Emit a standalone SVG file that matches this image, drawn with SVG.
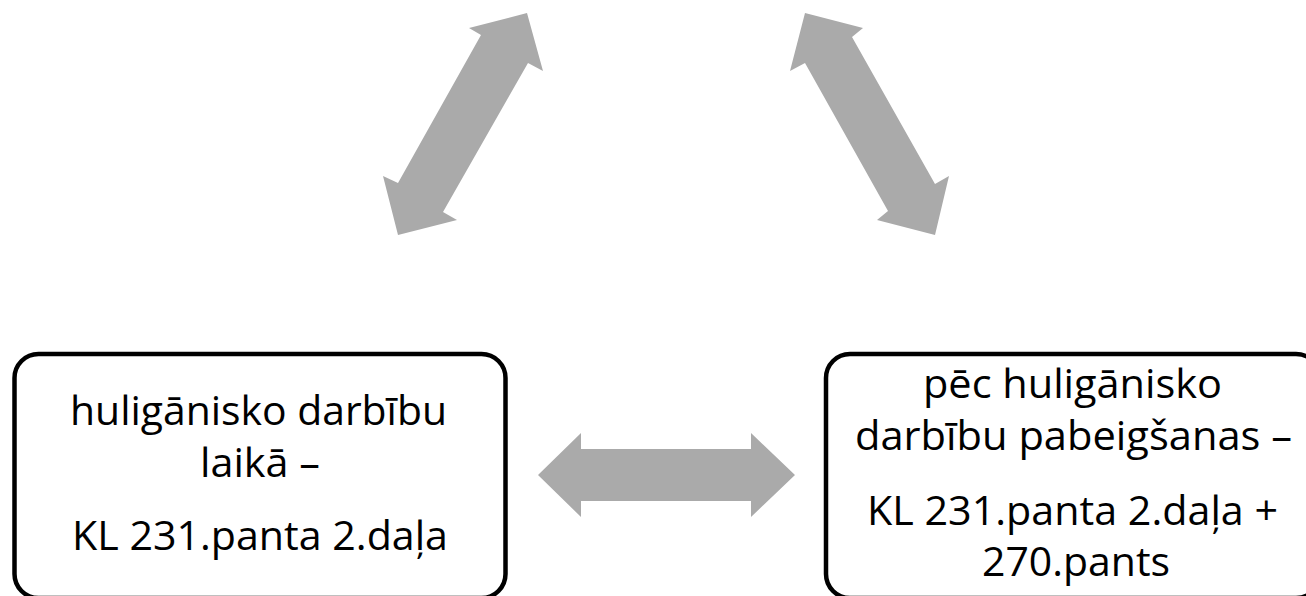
<svg xmlns="http://www.w3.org/2000/svg" width="1306" height="596" viewBox="0 0 1306 596">
<style>
.box{fill:#fff;stroke:#000;stroke-width:4.5}
.arr{fill:#aaaaaa}
.t{font-family:"Open Sans","Noto Sans","Liberation Sans",sans-serif;font-size:41px;fill:#000;text-anchor:middle}
</style>
<rect width="1306" height="596" fill="#fff"/>
<g id="connectors">
<polygon class="arr" points="527,13 543,71 528,63 443,212 457,220 398,235 383,176 398,183 481,35 469,28"/>
<polygon class="arr" points="805,13 863,28 852,37 935,184 949,176 935,235 877,220 888,211 805,63 790,71"/>
<polygon class="arr" points="538,475 581,433 581,449 751,449 751,433 795,475 751,517 751,501 581,501 581,517"/>
</g>
<g id="node-left">
<rect class="box" x="14.5" y="354" width="491" height="244" rx="24" ry="24"/>
<text class="t" x="258.5" y="425" textLength="377" lengthAdjust="spacingAndGlyphs">huligānisko darbību</text>
<text class="t" x="260" y="477" textLength="120" lengthAdjust="spacingAndGlyphs">laikā –</text>
<text class="t" x="260" y="550" textLength="376" lengthAdjust="spacingAndGlyphs">KL 231.panta 2.daļa</text>
</g>
<g id="node-right">
<rect class="box" x="826" y="354" width="494" height="244" rx="24" ry="24"/>
<text class="t" x="1072.5" y="398" textLength="299" lengthAdjust="spacingAndGlyphs">pēc huligānisko</text>
<text class="t" x="1073.5" y="450" textLength="437" lengthAdjust="spacingAndGlyphs">darbību pabeigšanas –</text>
<text class="t" x="1072.5" y="525" textLength="411" lengthAdjust="spacingAndGlyphs">KL 231.panta 2.daļa +</text>
<text class="t" x="1076" y="576" textLength="188" lengthAdjust="spacingAndGlyphs">270.pants</text>
</g>
</svg>
